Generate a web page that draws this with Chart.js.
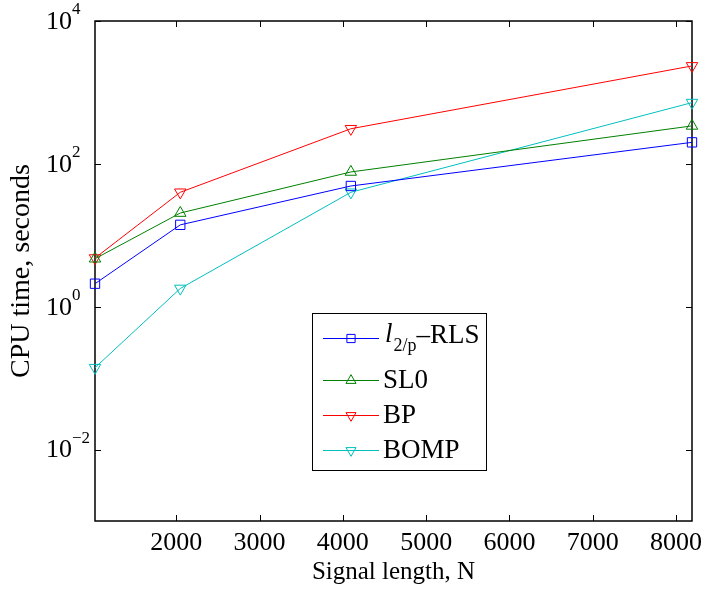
<!DOCTYPE html>
<html><head><meta charset="utf-8">
<script src="https://cdn.jsdelivr.net/npm/chart.js@4"></script>
<style>html,body{margin:0;padding:0;background:#fff}#wrap{width:703px;height:590px;position:relative}</style>
</head><body><div id="wrap"><canvas id="c" width="703" height="590"></canvas></div>
<script>
// ---- data ----
const signalLength = [1024, 2048, 4096, 8192];
const l2pRLS = [2.1, 14, 49, 200];
const sl0 = [4.7, 20.5, 77, 340];
const bp = [4.8, 40, 310, 2350];
const bomp = [0.14, 1.8, 40, 720];
const xTickValues = [2000, 3000, 4000, 5000, 6000, 7000, 8000];
const yTickValues = [1e-2, 1, 1e2, 1e4];
const seriesLabels = ['l2/p\u2013RLS', 'SL0', 'BP', 'BOMP'];

const FONT = "'Liberation Serif', 'Times New Roman', serif";
const colors = ['#0000ff', '#008000', '#ff0000', '#00bfbf'];
const styles = [
  {pointStyle: 'rect', rotation: 0, radius: 6.6},
  {pointStyle: 'triangle', rotation: 0, radius: 6.6},
  {pointStyle: 'triangle', rotation: 180, radius: 6.6},
  {pointStyle: 'triangle', rotation: 180, radius: 6.6}
];
const seriesValues = [l2pRLS, sl0, bp, bomp];

const datasets = seriesValues.map((vals, i) => ({
  label: seriesLabels[i],
  data: signalLength.map((n, j) => ({x: n, y: vals[j]})),
  borderColor: colors[i],
  borderWidth: 1,
  pointStyle: styles[i].pointStyle,
  pointRotation: styles[i].rotation,
  pointRadius: styles[i].radius,
  pointHoverRadius: styles[i].radius,
  pointBorderColor: colors[i],
  pointBackgroundColor: 'rgba(0,0,0,0)',
  pointBorderWidth: 1,
  tension: 0,
  fill: false,
  clip: false
}));

function drawMarker(ctx, style, x, y, color) {
  ctx.save();
  ctx.fillStyle = 'rgba(0,0,0,0)';
  ctx.strokeStyle = color;
  ctx.lineWidth = 1;
  Chart.helpers.drawPoint(ctx, {pointStyle: style.pointStyle, rotation: style.rotation, radius: style.radius - 0.8, borderWidth: 1}, x, y);
  ctx.restore();
}

const boxPlugin = {
  id: 'box',
  beforeDatasetsDraw(chart) {
    const ctx = chart.ctx;
    const a = chart.chartArea;
    const xs = chart.scales.x, ys = chart.scales.y;
    ctx.save();
    ctx.strokeStyle = '#000';
    ctx.lineWidth = 1.5;
    ctx.strokeRect(a.left, a.top, a.right - a.left, a.bottom - a.top);
    ctx.lineWidth = 1;
    const tl = 6;
    ctx.beginPath();
    xTickValues.forEach(v => {
      const px = Math.round(xs.getPixelForValue(v)) + 0.5;
      ctx.moveTo(px, a.bottom); ctx.lineTo(px, a.bottom - tl);
      ctx.moveTo(px, a.top); ctx.lineTo(px, a.top + tl);
    });
    yTickValues.forEach(v => {
      const py = Math.round(ys.getPixelForValue(v)) + 0.5;
      ctx.moveTo(a.left, py); ctx.lineTo(a.left + tl, py);
      ctx.moveTo(a.right, py); ctx.lineTo(a.right - tl, py);
    });
    ctx.stroke();

    // y tick labels 10^k
    ctx.fillStyle = '#000';
    ctx.textAlign = 'left';
    ctx.textBaseline = 'middle';
    yTickValues.forEach(v => {
      const py = ys.getPixelForValue(v);
      const e = Math.round(Math.log10(v));
      const es = e < 0 ? '\u2212' + Math.abs(e) : String(e);
      ctx.font = '26px ' + FONT;
      ctx.fillText('10', 46, py + 1);
      const w = ctx.measureText('10').width;
      ctx.font = '17px ' + FONT;
      ctx.fillText(es, 46 + w, py - 11);
    });
    ctx.restore();
  },
  afterDraw(chart) {
    const ctx = chart.ctx;
    ctx.save();
    // legend
    const L = {x: 312, y: 313, w: 174, h: 157};
    ctx.fillStyle = '#fff';
    ctx.fillRect(L.x, L.y, L.w, L.h);
    ctx.strokeStyle = '#000';
    ctx.lineWidth = 1;
    ctx.strokeRect(L.x + 0.5, L.y + 0.5, L.w, L.h);
    const rows = [338, 380, 415, 450];
    rows.forEach((ry, i) => {
      ctx.strokeStyle = colors[i];
      ctx.lineWidth = 1;
      ctx.beginPath();
      ctx.moveTo(323, ry + 0.5); ctx.lineTo(379, ry + 0.5);
      ctx.stroke();
      drawMarker(ctx, styles[i], 351, ry + 0.5, colors[i]);
      ctx.fillStyle = '#000';
      ctx.textBaseline = 'middle';
      ctx.textAlign = 'left';
      if (i === 0) {
        ctx.font = 'italic 27px ' + FONT;
        ctx.fillText('l', 385, ry - 3);
        let xx = 385 + ctx.measureText('l').width + 1;
        ctx.font = '18px ' + FONT;
        ctx.fillText('2/p', xx, ry + 8);
        xx += ctx.measureText('2/p').width;
        ctx.font = '27px ' + FONT;
        ctx.fillText('\u2013RLS', xx, ry - 2);
      } else {
        ctx.font = '27px ' + FONT;
        ctx.fillText(seriesLabels[i], 383, ry + 1);
      }
    });
    ctx.restore();
  }
};

new Chart(document.getElementById('c'), {
  type: 'line',
  data: {datasets},
  options: {
    responsive: false,
    animation: false,
    devicePixelRatio: 1,
    layout: {padding: {left: 0, right: 11, top: 21, bottom: 0}},
    plugins: {legend: {display: false}, tooltip: {enabled: false}},
    scales: {
      x: {
        type: 'linear',
        min: 1024, max: 8192,
        afterBuildTicks(s) { s.ticks = xTickValues.map(v => ({value: v})); },
        afterFit(s) { s.height = 69; s.paddingLeft = 0; s.paddingRight = 0; },
        grid: {display: false, drawTicks: false},
        border: {display: false},
        ticks: {color: '#000', font: {family: FONT, size: 26}, padding: 7, maxRotation: 0, autoSkip: false, callback: v => String(v)},
        title: {display: true, text: 'Signal length, N', color: '#000', font: {family: FONT, size: 25}, padding: {top: 0, bottom: 3}}
      },
      y: {
        type: 'logarithmic',
        min: 1e-3, max: 1e4,
        afterBuildTicks(s) { s.ticks = yTickValues.map(v => ({value: v})); },
        afterFit(s) { s.width = 95; s.paddingTop = 0; s.paddingBottom = 0; },
        grid: {display: false, drawTicks: false},
        border: {display: false},
        ticks: {callback: () => '', font: {family: FONT, size: 25}},
        title: {display: true, text: 'CPU time, seconds', color: '#000', font: {family: FONT, size: 28}, padding: {top: 5, bottom: 0}}
      }
    }
  },
  plugins: [boxPlugin]
});
</script>
</body></html>
